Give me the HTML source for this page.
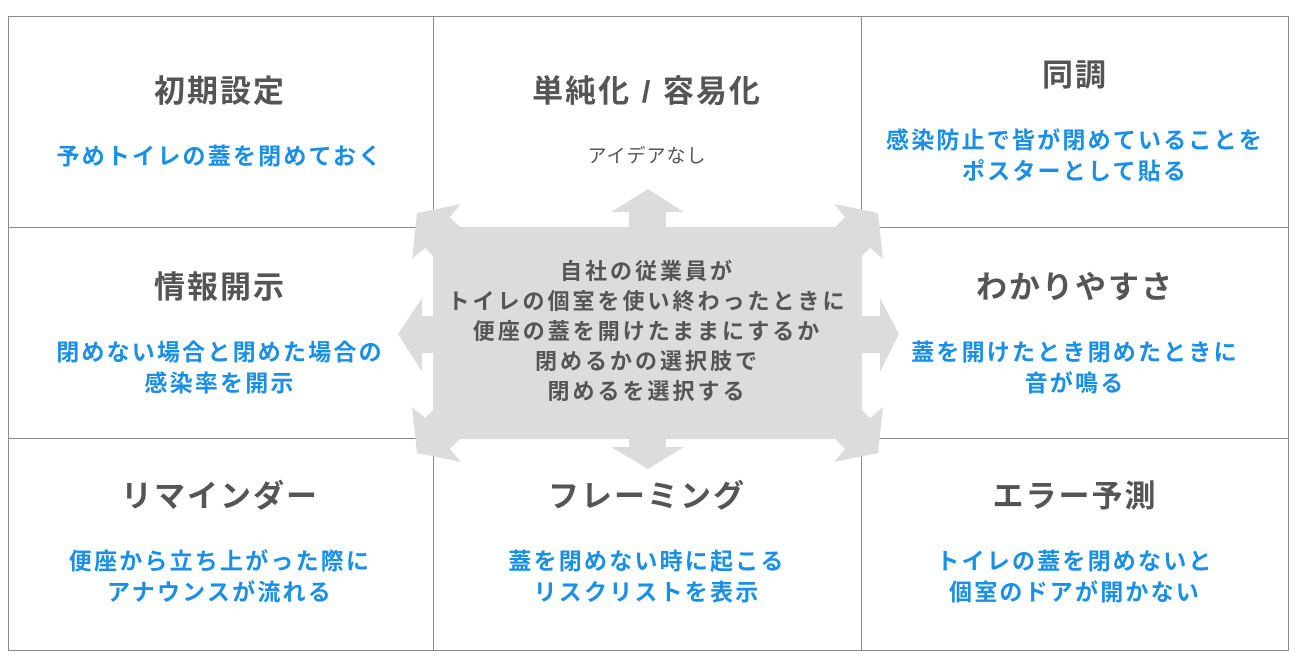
<!DOCTYPE html>
<html><head><meta charset="utf-8"><style>
body{margin:0;width:1300px;height:661px;background:#fff;position:relative;overflow:hidden;font-family:"Liberation Sans","Noto Sans CJK JP",sans-serif;font-weight:bold}
.l{position:absolute;background:#8a8a8a}
.t{position:absolute;width:420px;text-align:center;color:#555;font-size:31px;letter-spacing:2px;line-height:36px}
.b{position:absolute;width:420px;text-align:center;color:#1a8fe8;font-size:23px;letter-spacing:2.2px;line-height:31px}
.c{position:absolute;left:433px;top:257px;width:429px;text-align:center;color:#555;font-size:22px;letter-spacing:3px;line-height:30px}
</style></head><body>
<div class="l" style="left:8px;top:16px;width:1281px;height:1px"></div>
<div class="l" style="left:8px;top:650px;width:1281px;height:1px"></div>
<div class="l" style="left:8px;top:16px;width:1px;height:635px"></div>
<div class="l" style="left:1288px;top:16px;width:1px;height:635px"></div>
<div class="l" style="left:433px;top:16px;width:1px;height:635px"></div>
<div class="l" style="left:861px;top:16px;width:1px;height:635px"></div>
<div class="l" style="left:8px;top:227px;width:1281px;height:1px"></div>
<div class="l" style="left:8px;top:438px;width:1281px;height:1px"></div>
<svg style="position:absolute;left:0;top:0" width="1300" height="661">
<g fill="#dcdcdc">
<rect x="433" y="227" width="429" height="212"/>
<polygon points="629,227 629,212 611,212 648,189 684,212 666,212 666,227"/>
<polygon points="629,439 629,447 611,447 648,469 684,447 666,447 666,439"/>
<polygon points="433,316 422,316 422,298 398,334 422,372 422,353 433,353"/>
<polygon points="862,316 880,316 880,298 899,334 880,372 880,353 862,353"/>
<g id="d"><polygon points="460,227 450,217 461,204 417,213 412,259 425,248 433,256"/></g>
<use href="#d" transform="translate(1295,0) scale(-1,1)"/>
<use href="#d" transform="translate(0,666) scale(1,-1)"/>
<use href="#d" transform="translate(1295,666) scale(-1,-1)"/>
</g></svg>
<div class="t" style="left:10px;top:74px">初期設定</div>
<div class="b" style="left:10px;top:141px">予めトイレの蓋を閉めておく</div>
<div class="t" style="left:437px;top:74px">単純化 / 容易化</div>
<div class="b" style="left:437px;top:141px;color:#555;font-weight:normal;font-size:19px;letter-spacing:1px">アイデアなし</div>
<div class="t" style="left:865px;top:58px">同調</div>
<div class="b" style="left:865px;top:125px">感染防止で皆が閉めていることを<br>ポスターとして貼る</div>
<div class="t" style="left:10px;top:270px">情報開示</div>
<div class="b" style="left:10px;top:337px">閉めない場合と閉めた場合の<br>感染率を開示</div>
<div class="t" style="left:865px;top:270px">わかりやすさ</div>
<div class="b" style="left:865px;top:337px">蓋を開けたとき閉めたときに<br>音が鳴る</div>
<div class="t" style="left:10px;top:479px">リマインダー</div>
<div class="b" style="left:10px;top:546px">便座から立ち上がった際に<br>アナウンスが流れる</div>
<div class="t" style="left:437px;top:479px">フレーミング</div>
<div class="b" style="left:437px;top:546px">蓋を閉めない時に起こる<br>リスクリストを表示</div>
<div class="t" style="left:865px;top:479px">エラー予測</div>
<div class="b" style="left:865px;top:546px">トイレの蓋を閉めないと<br>個室のドアが開かない</div>
<div class="c">自社の従業員が<br>トイレの個室を使い終わったときに<br>便座の蓋を開けたままにするか<br>閉めるかの選択肢で<br>閉めるを選択する</div>
</body></html>
